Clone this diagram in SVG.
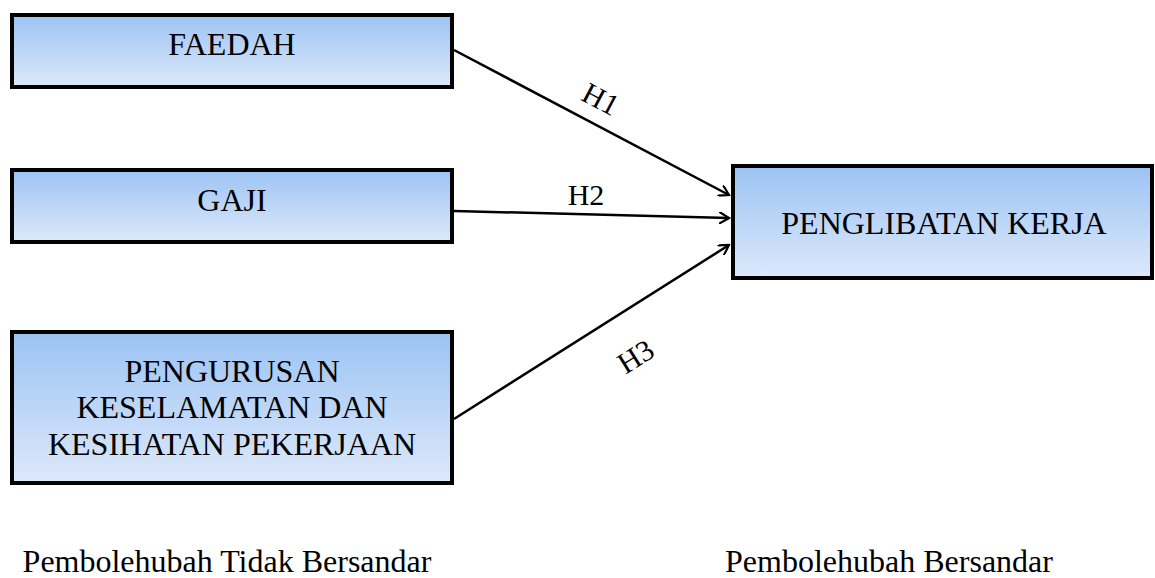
<svg xmlns="http://www.w3.org/2000/svg" width="1155" height="578" viewBox="0 0 1155 578">
<style>
.box{fill:url(#g);stroke:#000;stroke-width:4}
.t{font-family:"Liberation Serif","Times New Roman",serif;font-size:32px;fill:#000;text-anchor:middle}
.h{font-size:30px}
.c{stroke:#000;stroke-width:2.5;fill:none}
</style>
<defs>
<linearGradient id="g" x1="0" y1="0" x2="0" y2="1">
<stop offset="0" stop-color="#9cc3f3"/>
<stop offset="1" stop-color="#dde9fb"/>
</linearGradient>
<marker id="a" markerWidth="12" markerHeight="12" refX="10" refY="6" orient="auto" markerUnits="userSpaceOnUse" viewBox="0 0 12 12">
<path d="M0,0 L10,6 L0,12" fill="none" stroke="#000" stroke-width="2.2"/>
</marker>
</defs>
<rect width="1155" height="578" fill="#fff"/>
<g id="faedah"><rect class="box" x="12" y="15" width="440" height="72"/><text class="t" x="232" y="55">FAEDAH</text></g>
<g id="gaji"><rect class="box" x="12" y="170" width="440" height="72"/><text class="t" x="232" y="211">GAJI</text></g>
<g id="pengurusan"><rect class="box" x="12" y="332" width="440" height="151"/>
<text class="t" x="232" y="382">PENGURUSAN</text><text class="t" x="232" y="418">KESELAMATAN DAN</text><text class="t" x="232" y="455">KESIHATAN PEKERJAAN</text></g>
<g id="penglibatan"><rect class="box" x="733" y="166" width="419" height="112"/><text class="t" x="944" y="234">PENGLIBATAN KERJA</text></g>
<g id="connectors">
<line class="c" x1="454" y1="50" x2="729" y2="195" marker-end="url(#a)"/>
<line class="c" x1="454" y1="211" x2="729" y2="218" marker-end="url(#a)"/>
<line class="c" x1="454" y1="419" x2="729" y2="245" marker-end="url(#a)"/>
<text class="t h" transform="translate(596,108) rotate(28)">H1</text>
<text class="t h" x="586" y="205">H2</text>
<text class="t h" transform="translate(641,365) rotate(-32)">H3</text>
</g>
<g id="labels">
<text class="t" x="227" y="572">Pembolehubah Tidak Bersandar</text>
<text class="t" x="889" y="572">Pembolehubah Bersandar</text>
</g>
</svg>
